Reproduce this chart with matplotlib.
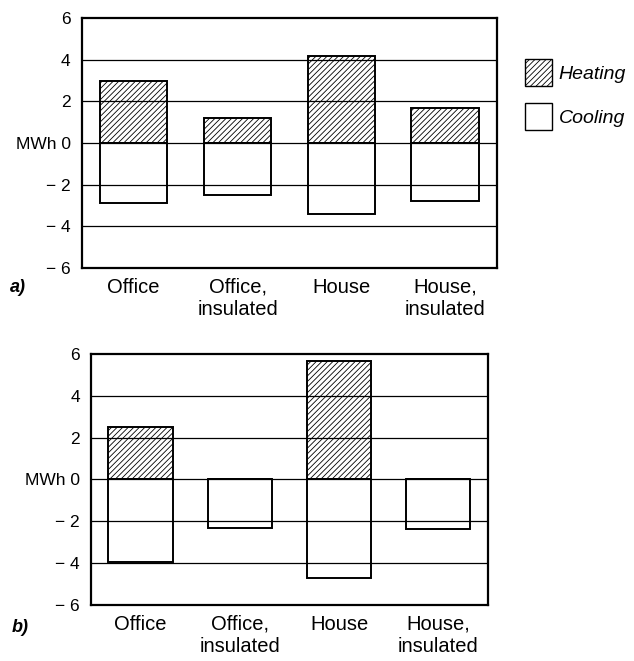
import numpy as np
import matplotlib
matplotlib.use("Agg")
import matplotlib.pyplot as plt
from matplotlib.patches import Patch

# Values (MWh)
cats = ["Office", "Office,\ninsulated", "House", "House,\ninsulated"]
heat_a = [3.0, 1.2, 4.2, 1.7]
cool_a = [-2.9, -2.5, -3.4, -2.8]
heat_b = [2.5, 0.0, 5.65, 0.0]
cool_b = [-3.95, -2.3, -4.7, -2.35]
yticks = [-6, -4, -2, 0, 2, 4, 6]
ylabels = ["\u2212 6", "\u2212 4", "\u2212 2", "MWh 0", "2", "4", "6"]

plt.rcParams["font.family"] = ["Liberation Sans", "DejaVu Sans"]
plt.rcParams["hatch.linewidth"] = 0.6


def panel(ax, heat, cool):
    x = np.arange(len(cats))
    for yv in [-4, -2, 0, 2, 4]:
        ax.axhline(yv, color="black", lw=0.9, zorder=1)
    ax.bar(x, heat, width=0.65, facecolor="none", edgecolor="black",
           hatch="//////", lw=1.4, zorder=2)
    ax.bar(x, cool, width=0.65, facecolor="none", edgecolor="black",
           lw=1.4, zorder=2)
    ax.set_xlim(-0.5, len(cats) - 0.5)
    ax.set_ylim(-6, 6)
    ax.set_xticks(x)
    ax.set_xticklabels(cats, fontsize=14.5, linespacing=1.25)
    ax.set_yticks(yticks)
    ax.set_yticklabels(ylabels, fontsize=12.5)
    ax.tick_params(axis="x", length=0, pad=7)
    ax.tick_params(axis="y", length=0, pad=8)
    for s in ax.spines.values():
        s.set_linewidth(1.6)


fig = plt.figure(figsize=(6.34, 6.61), dpi=100)
ax1 = fig.add_axes([0.129, 0.5946, 0.655, 0.378])
ax2 = fig.add_axes([0.1435, 0.0847, 0.626, 0.38])
panel(ax1, heat_a, cool_a)
panel(ax2, heat_b, cool_b)

fig.text(10 / 634, 1 - 287 / 661, "a)", fontsize=13, fontweight="bold",
         fontstyle="italic", va="center")
fig.text(12 / 634, 1 - 627 / 661, "b)", fontsize=13, fontweight="bold",
         fontstyle="italic", va="center")

handles = [Patch(facecolor="white", edgecolor="black", hatch="//////", lw=1.0),
           Patch(facecolor="white", edgecolor="black", lw=1.0)]
fig.legend(handles, ["Heating", "Cooling"], loc="upper left",
           bbox_to_anchor=(0.806, 0.932), frameon=False,
           prop={"size": 14, "style": "italic"},
           handlelength=1.4, handleheight=1.8, handletextpad=0.35,
           labelspacing=0.85, borderpad=0.2)

fig.savefig("out.png", dpi=100)
